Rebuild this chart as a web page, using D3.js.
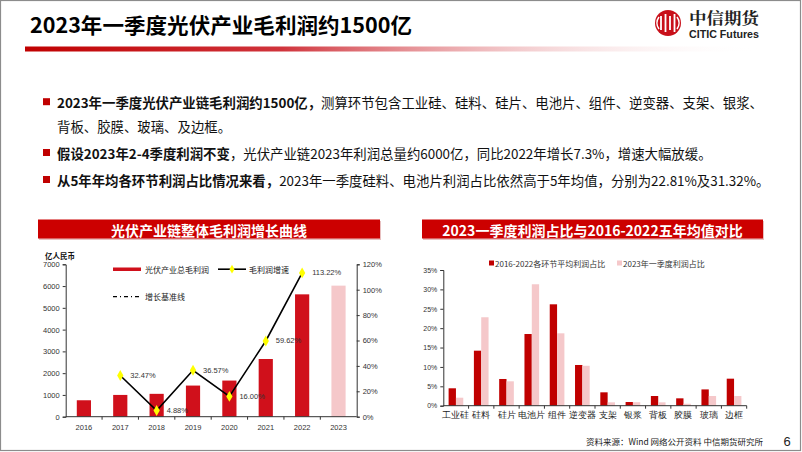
<!DOCTYPE html>
<html><head><meta charset="utf-8">
<script src="https://cdn.jsdelivr.net/npm/d3@7"></script>
<style>
html,body{margin:0;padding:0;background:#fff;}
svg{display:block;font-family:"Noto Sans CJK SC","Noto Sans",sans-serif;}
</style></head>
<body>
<svg id="c" width="802" height="452"></svg>
<script>
// ---- data ----
const years = ["2016","2017","2018","2019","2020","2021","2022","2023"];
const profit = [755, 1000, 1050, 1430, 1660, 2650, 5620, 6020];   // 亿人民币
const growthYears = ["2017","2018","2019","2020","2021","2022"];
const growth = [0.3247, 0.0488, 0.3657, 0.1600, 0.5962, 1.1322];
const growthLabels = ["32.47%","4.88%","36.57%","16.00%","59.62%","113.22%"];
const leftTicks = [0,1000,2000,3000,4000,5000,6000,7000];
const rightTicks = [0,0.2,0.4,0.6,0.8,1.0,1.2];

const segments = ["工业硅","硅料","硅片","电池片","组件","逆变器","支架","银浆","背板","胶膜","玻璃","边框"];
const avgShare = [0.0449,0.1419,0.0689,0.1849,0.2615,0.1050,0.0345,0.0095,0.0250,0.0190,0.0420,0.0697];
const q1Share  = [0.0206,0.2281,0.0629,0.3132,0.1867,0.1030,0.0087,0.0090,0.0087,0.0050,0.0250,0.0250];
const shareTicks = [0,0.05,0.10,0.15,0.20,0.25,0.30,0.35];
const shareSeries = ["2016-2022各环节平均利润占比","2023年一季度利润占比"];

const svg = d3.select("#c");
const DARK = "#c00000", PINK = "#f5c8ca";

// frame
svg.append("rect").attr("x",0.5).attr("y",0.5).attr("width",800).attr("height",450)
  .attr("fill","none").attr("stroke","#8c8c8c").attr("stroke-width",1.2);

// title
svg.append("text").attr("x",30).attr("y",33).attr("font-size",21).attr("font-weight","bold")
  .attr("fill","#000").attr("textLength",382).attr("lengthAdjust","spacingAndGlyphs")
  .text("2023年一季度光伏产业毛利润约1500亿");

// gradient line
const defs = svg.append("defs");
const g1 = defs.append("linearGradient").attr("id","gl");
g1.append("stop").attr("offset","0%").attr("stop-color","#c00000");
g1.append("stop").attr("offset","35%").attr("stop-color","#d0343c");
g1.append("stop").attr("offset","100%").attr("stop-color","#ffffff").attr("stop-opacity",0);
svg.append("rect").attr("x",25).attr("y",46.5).attr("width",735).attr("height",5).attr("fill","url(#gl)");

// logo
const lg = svg.append("g");
lg.append("circle").attr("cx",668).attr("cy",23).attr("r",13).attr("fill","#c8101a");
[-7,-2.5,2,6.5].forEach((dx,i)=>{
  lg.append("rect").attr("x",668+dx-0.9).attr("y",i%2?14:16).attr("width",1.8).attr("height",i%2?18:14).attr("fill","#fff");
});
lg.append("path").attr("d","M 659 17 A 10 10 0 0 0 659 29").attr("fill","none").attr("stroke","#fff").attr("stroke-width",1.6);
lg.append("path").attr("d","M 677 17 A 10 10 0 0 1 677 29").attr("fill","none").attr("stroke","#fff").attr("stroke-width",1.6);
svg.append("text").attr("x",689).attr("y",24).attr("font-size",15.5).attr("font-weight","bold")
  .attr("font-family","'Noto Serif CJK SC','Noto Sans CJK SC',serif").attr("fill","#222")
  .attr("textLength",70).attr("lengthAdjust","spacingAndGlyphs").text("中信期货");
svg.append("text").attr("x",689).attr("y",37.5).attr("font-size",10).attr("font-weight","bold")
  .attr("font-family","'Liberation Sans Narrow','Liberation Sans',sans-serif").attr("fill","#222")
  .attr("textLength",70).attr("lengthAdjust","spacingAndGlyphs").text("CITIC Futures");

// bullets
const bullets = [
  {y:101.7, parts:[["2023年一季度光伏产业链毛利润约1500亿，",true],["测算环节包含工业硅、硅料、硅片、电池片、组件、逆变器、支架、银浆、",false]], sq:true},
  {y:125.5, parts:[["背板、胶膜、玻璃、及边框。",false]], sq:false},
  {y:152.5, parts:[["假设2023年2-4季度利润不变",true],["，光伏产业链2023年利润总量约6000亿，同比2022年增长7.3%，增速大幅放缓。",false]], sq:true},
  {y:179.5, parts:[["从5年年均各环节利润占比情况来看，",true],["2023年一季度硅料、电池片利润占比依然高于5年均值，分别为22.81%及31.32%。",false]], sq:true}
];
bullets.forEach(b=>{
  if(b.sq) svg.append("rect").attr("x",43).attr("y",b.y-3.5).attr("width",7).attr("height",7).attr("fill","#c00000");
  const t = svg.append("text").attr("x",57).attr("y",b.y).attr("dominant-baseline","central")
    .attr("font-size",13.4).attr("fill","#111");
  b.parts.forEach(p=>t.append("tspan").attr("font-weight",p[1]?"bold":"normal").text(p[0]));
});

// banners
function banner(x,y,w,h,txt){
  svg.append("rect").attr("x",x+1).attr("y",y+1.5).attr("width",w).attr("height",h).attr("fill","#e8c0c0");
  svg.append("rect").attr("x",x).attr("y",y).attr("width",w).attr("height",h).attr("fill","#cc0000");
  svg.append("text").attr("x",x+w/2).attr("y",y+h/2+0.5).attr("text-anchor","middle").attr("dominant-baseline","central")
    .attr("font-size",14).attr("font-weight","bold").attr("fill","#fff").text(txt);
}
banner(38,219.5,342,19,"光伏产业链整体毛利润增长曲线");
banner(422,219.5,341,19,"2023一季度利润占比与2016-2022五年均值对比");

// ---- left chart ----
const L = {x0:65.7, x1:356.7, y0:416.7, y1:264.3};
const xL = d3.scaleBand().domain(years).range([L.x0,L.x1]);
const yL = d3.scaleLinear().domain([0,7000]).range([L.y0,L.y1]);
const yR = d3.scaleLinear().domain([0,1.2]).range([L.y0,L.y1]);
const gl = svg.append("g");
const bw = xL.bandwidth()*0.39;
gl.selectAll("rect.b").data(years).enter().append("rect")
  .attr("x",d=>xL(d)+xL.bandwidth()/2-bw/2).attr("width",bw)
  .attr("y",(d,i)=>yL(profit[i])).attr("height",(d,i)=>L.y0-yL(profit[i]))
  .attr("fill",d=>d==="2023"?PINK:"#d0101b");

// axes
const axL = d3.axisLeft(yL).tickValues(leftTicks).tickSize(3).tickFormat(d3.format("d"));
const gAxL = svg.append("g").attr("transform",`translate(${L.x0},0)`).call(axL);
const axR = d3.axisRight(yR).tickValues(rightTicks).tickSize(3).tickFormat(d3.format(".0%"));
const gAxR = svg.append("g").attr("transform",`translate(${L.x1},0)`).call(axR);
const axB = d3.axisBottom(xL).tickSize(0).tickPadding(8);
const gAxB = svg.append("g").attr("transform",`translate(0,${L.y0})`).call(axB);
[gAxL,gAxR,gAxB].forEach(g=>{
  g.select(".domain").attr("stroke","#333").attr("stroke-width",1);
  g.selectAll(".tick line").attr("stroke","#333");
  g.selectAll("text").attr("font-size",7.5).attr("fill","#333").attr("font-family","'Liberation Sans',Arial,sans-serif");
});
gAxB.select(".domain").attr("d",`M${L.x0},0H${L.x1}`);
gAxB.selectAll("line.bt").data(years.slice(1)).enter().append("line").attr("class","bt")
  .attr("x1",d=>xL(d)).attr("x2",d=>xL(d)).attr("y1",0).attr("y2",3).attr("stroke","#333");

// growth line
const gpts = growthYears.map((y,i)=>[xL(y)+xL.bandwidth()/2, yR(growth[i])]);
gl.append("path").attr("d",d3.line()(gpts)).attr("fill","none").attr("stroke","#000").attr("stroke-width",1.6);
gl.selectAll("path.dm").data(gpts).enter().append("path")
  .attr("d",d3.symbol(d3.symbolDiamond,34)).attr("transform",d=>`translate(${d[0]},${d[1]})`).attr("fill","#ffff00");
gl.selectAll("text.gl").data(gpts).enter().append("text")
  .attr("x",d=>d[0]+10).attr("y",d=>d[1]).attr("dominant-baseline","central")
  .attr("font-size",7.5).attr("fill","#333").attr("font-family","'Liberation Sans',Arial,sans-serif")
  .text((d,i)=>growthLabels[i]);

svg.append("text").attr("x",45).attr("y",255.5).attr("font-size",7.5).attr("font-weight","bold").attr("fill","#111")
  .attr("dominant-baseline","central").text("亿人民币");

// left legend
const leg = svg.append("g").attr("font-size",8).attr("fill","#222");
leg.append("rect").attr("x",113).attr("y",267.5).attr("width",28).attr("height",3.5).attr("fill","#d0101b");
leg.append("text").attr("x",145).attr("y",269.2).attr("dominant-baseline","central").text("光伏产业总毛利润");
leg.append("line").attr("x1",218).attr("x2",246).attr("y1",269.2).attr("y2",269.2).attr("stroke","#000").attr("stroke-width",1.6);
leg.append("path").attr("d",d3.symbol(d3.symbolDiamond,22)).attr("transform","translate(232,269.2)").attr("fill","#ffff00");
leg.append("text").attr("x",249).attr("y",269.2).attr("dominant-baseline","central").text("毛利润增速");
leg.append("line").attr("x1",113).attr("x2",141).attr("y1",296.7).attr("y2",296.7).attr("stroke","#000").attr("stroke-width",1.3)
  .attr("stroke-dasharray","4,3,1,3");
leg.append("text").attr("x",145).attr("y",296.7).attr("dominant-baseline","central").text("增长基准线");

// ---- right chart ----
const R = {x0:443.3, x1:746.7, y0:405.7, y1:270};
const xS = d3.scaleBand().domain(segments).range([R.x0,R.x1]);
const yS = d3.scaleLinear().domain([0,0.35]).range([R.y0,R.y1]);
const xSub = d3.scaleBand().domain(shareSeries).range([0, xS.bandwidth()*0.58]);
const off = xS.bandwidth()*0.21;
const gr = svg.append("g");
[avgShare,q1Share].forEach((arr,k)=>{
  gr.selectAll("rect.s"+k).data(segments).enter().append("rect")
    .attr("x",d=>xS(d)+off+xSub(shareSeries[k])).attr("width",xSub.bandwidth())
    .attr("y",(d,i)=>yS(arr[i])).attr("height",(d,i)=>R.y0-yS(arr[i]))
    .attr("fill",k?PINK:DARK);
});
const axS = d3.axisLeft(yS).tickValues(shareTicks).tickSize(3).tickFormat(d3.format(".0%"));
const gAxS = svg.append("g").attr("transform",`translate(${R.x0},0)`).call(axS);
const axSB = d3.axisBottom(xS).tickSize(0).tickPadding(6);
const gAxSB = svg.append("g").attr("transform",`translate(0,${R.y0})`).call(axSB);
[gAxS,gAxSB].forEach(g=>{
  g.select(".domain").attr("stroke","#333");
  g.selectAll(".tick line").attr("stroke","#333");
});
gAxS.selectAll("text").attr("font-size",7).attr("fill","#333").attr("font-family","'Liberation Sans',Arial,sans-serif");
gAxSB.selectAll("text").attr("font-size",8.5).attr("fill","#222");
gAxSB.select(".domain").attr("d",`M${R.x0},0H${R.x1}`);
gAxSB.selectAll("line.bt").data(segments.slice(1).concat(["end"])).enter().append("line").attr("class","bt")
  .attr("x1",d=>d==="end"?R.x1:xS(d)).attr("x2",d=>d==="end"?R.x1:xS(d)).attr("y1",0).attr("y2",3).attr("stroke","#333");

// right legend
const leg2 = svg.append("g").attr("font-size",8).attr("fill","#333");
leg2.append("rect").attr("x",489).attr("y",260.5).attr("width",5).attr("height",5).attr("fill",DARK);
leg2.append("text").attr("x",495).attr("y",263.3).attr("dominant-baseline","central").text(shareSeries[0]);
leg2.append("rect").attr("x",617).attr("y",260.5).attr("width",5).attr("height",5).attr("fill",PINK);
leg2.append("text").attr("x",623).attr("y",263.3).attr("dominant-baseline","central").text(shareSeries[1]);

// footer
svg.append("text").attr("x",763).attr("y",441).attr("text-anchor","end").attr("dominant-baseline","central")
  .attr("font-size",8.5).attr("fill","#222").text("资料来源：Wind 网络公开资料 中信期货研究所");
svg.append("text").attr("x",787).attr("y",441).attr("text-anchor","middle").attr("dominant-baseline","central")
  .attr("font-size",13).attr("fill","#222").attr("font-family","'Liberation Sans',Arial,sans-serif").text("6");
</script>
</body></html>
